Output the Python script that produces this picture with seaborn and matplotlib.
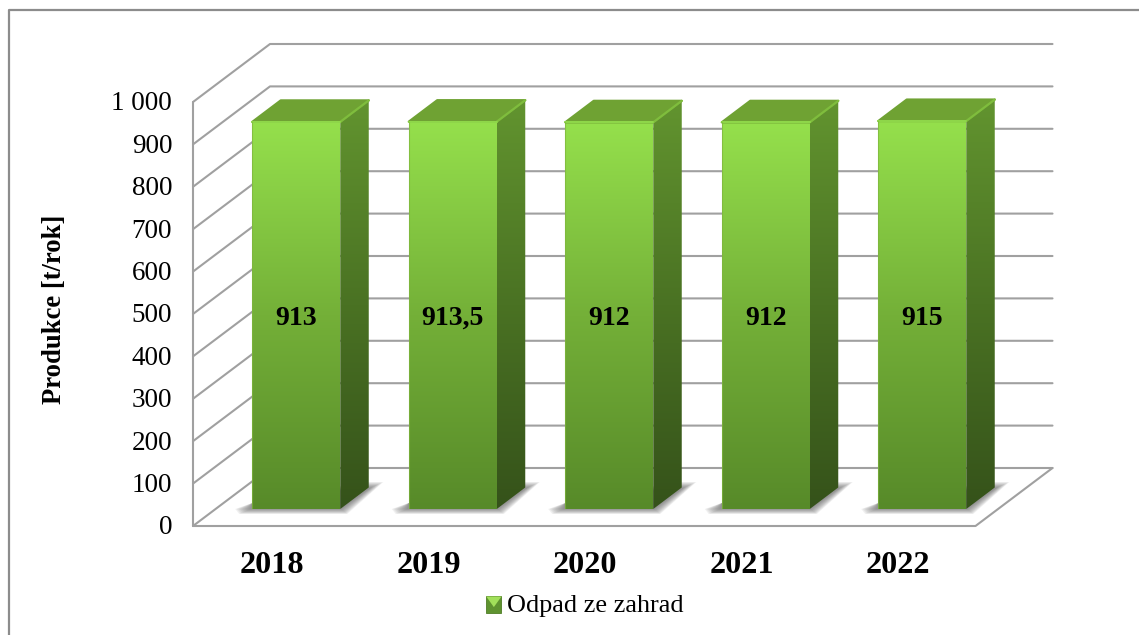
import numpy as np
import pandas as pd
import matplotlib
matplotlib.use("Agg")
import matplotlib.pyplot as plt
import matplotlib.transforms as mtrans
from matplotlib.colors import LinearSegmentedColormap
from matplotlib.lines import Line2D
from matplotlib.patches import Patch, Polygon, Rectangle
import seaborn as sns

years = ["2018", "2019", "2020", "2021", "2022"]
production = [913, 913.5, 912, 912, 915]
value_labels = ["913", "913,5", "912", "912", "915"]
y_ticks = [0, 100, 200, 300, 400, 500, 600, 700, 800, 900, 1000]
y_tick_labels = ["0", "100", "200", "300", "400", "500", "600", "700", "800", "900", "1 000"]
series_name = "Odpad ze zahrad"
y_title = "Produkce [t/rok]"

W, H = 1139, 635
PX_X = 156.5            # pixels per category
PX_Y = 0.424            # pixels per t/rok
FRONT = (-25, -17)      # front edge of the floor, relative to the bar plane
BACK = (52, 41)         # back wall, relative to the bar plane
DEPTH = (28.5, 21.5)    # bar depth
GRID = "#a0a0a0"

sns.set_theme(style="white")
plt.rcParams["font.family"] = ["Liberation Serif", "DejaVu Serif"]

df = pd.DataFrame({"year": years, "production": production})

fig = plt.figure(figsize=(W / 100, H / 100), dpi=100, facecolor="white")
ax = fig.add_axes([218 / W, 1 - 509 / H, 782.5 / W, 424 / H])
sns.barplot(data=df, x="year", y="production", width=88 / PX_X, color="#6fae35",
            saturation=1, ax=ax, zorder=2.4, linewidth=0)
ax.set_xlim(-0.5, 4.5)
ax.set_ylim(0, 1000)
for s in ax.spines.values():
    s.set_visible(False)


def off(x, v, dx=0, dy=0):
    return (x + dx / PX_X, v + dy / PX_Y)


def gradient(poly_pts, colors, zorder):
    xs = [p[0] for p in poly_pts]
    vs = [p[1] for p in poly_pts]
    cmap = LinearSegmentedColormap.from_list("g", colors)
    img = ax.imshow(np.linspace(1, 0, 256).reshape(-1, 1), cmap=cmap, aspect="auto",
                    extent=(min(xs), max(xs), min(vs), max(vs)), zorder=zorder,
                    interpolation="bilinear")
    clip = Polygon(poly_pts, closed=True, transform=ax.transData, fc="none", ec="none")
    ax.add_patch(clip)
    img.set_clip_path(clip)
    ax.set_xlim(-0.5, 4.5)
    ax.set_ylim(0, 1000)


# walls and floor
x0, x1 = -0.5, 4.5
line_kw = dict(color=GRID, lw=1.5, clip_on=False, zorder=1, solid_capstyle="round")
for v in y_ticks:
    fx, fy = off(x0, v, *FRONT)
    bx, by = off(x0, v, *BACK)
    ex, _ = off(x1, v, *BACK)
    ax.plot([fx, bx, ex], [fy, by, by], **line_kw)
ax.plot(*zip(off(x0, 0, *FRONT), off(x0, 1000, *FRONT)), **line_kw)
ax.plot(*zip(off(x0, 0, *FRONT), off(x1, 0, *FRONT), off(x1, 0, *BACK)), **line_kw)

# bars: shadow, front, side, top
bars = ax.containers[0]
for bar in bars:
    L, R = bar.get_x(), bar.get_x() + bar.get_width()
    top = bar.get_height()
    for g in range(10, -1, -1):
        s_top = 21 + 0.6 * g
        shadow = [off(L, 0, -2 - 1.5 * g, 0), off(L, 0, -1 - 1.2 * g, -0.5 * g),
                  off(R, 0, 1 + 0.6 * g, -0.5 * g), off(R, 0, 30 + 1.3 * g, s_top),
                  off(R, 0, 20, s_top), off(L, 0, 0, 6)]
        ax.add_patch(Polygon(shadow, closed=True, fc="#5a5a5a", ec="none", alpha=0.085,
                             clip_on=False, zorder=2))
    gradient([(L, 0), (R, 0), (R, top), (L, top)],
             ["#578a29", "#74b038", "#95e04c"], 2.5)
    gradient([(R, 0), off(R, 0, *DEPTH), off(R, top, *DEPTH), (R, top)],
             ["#35521a", "#4a7223", "#62942f"], 2.5)
    top_face = [(L, top), (R, top), off(R, top, *DEPTH), off(L, top, *DEPTH)]
    ax.add_patch(Polygon(top_face, closed=True, fc="#6fa233", ec="#6fa233", lw=1.6,
                         joinstyle="round", zorder=2.6))
    ax.plot(*zip((R, top), off(R, top, *DEPTH)), color="#7fbd3d", lw=1.6, zorder=2.65,
            solid_capstyle="round")
    ax.plot([L, R], [top, top], color="#8fd84a", lw=1.4, zorder=2.7, solid_capstyle="round")
    ax.plot([L, L], [0, top], color="#7fb53d", lw=0.8, alpha=0.7, zorder=2.7)

for t in ax.bar_label(bars, labels=value_labels, label_type="center", fontsize=20,
                      fontweight="bold", color="black", zorder=5):
    t.xyann = (0, -2.2)

# tick labels sit on the front plane
ax.set_yticks(y_ticks)
ax.set_yticklabels(y_tick_labels)
ax.tick_params(axis="y", length=0, pad=33, labelsize=19.5, labelcolor="black")
ax.tick_params(axis="x", length=0, pad=30, labelsize=23.2, labelcolor="black")
ax.set_xlabel("")
y_shift = mtrans.ScaledTranslation(0, -16 / 100, fig.dpi_scale_trans)
x_shift = mtrans.ScaledTranslation(-24 / 100, 0, fig.dpi_scale_trans)
for lab in ax.get_yticklabels():
    lab.set_transform(lab.get_transform() + y_shift)
for lab in ax.get_xticklabels():
    lab.set_transform(lab.get_transform() + x_shift)
    lab.set_fontweight("bold")

ax.set_ylabel(y_title, fontsize=19.2, fontweight="bold", color="black")
ax.yaxis.set_label_coords((67 - 218) / 782.5, (509 - 309) / 424)


class SwatchHandler:
    def legend_artist(self, legend, orig, fontsize, box):
        x, y = box.xdescent, box.ydescent
        w, h = box.width, box.height
        tr = box.get_transform()
        rect = Rectangle((x, y), w, h, fc="#5f9330", ec="#4f7d25", lw=0.6, transform=tr)
        tri = Polygon([(x, y + h), (x + w, y + h), (x + w / 2, y + h * 0.35)], closed=True,
                      fc="#a2e05a", ec="none", transform=tr)
        box.add_artist(rect)
        box.add_artist(tri)
        return rect


handle = Patch(label=series_name)
fig.legend(handles=[handle], loc="center", bbox_to_anchor=(585 / W, 1 - 605.5 / H), frameon=False,
           fontsize=18.9, handlelength=0.58, handleheight=0.58, handletextpad=0.22,
           handler_map={Patch: SwatchHandler()}, labelcolor="black")

# chart area border, cut by the page on the right and at the bottom
border = "#8c8c8c"
fig.add_artist(Line2D([8.5 / W, 8.5 / W, 1], [0, 1 - 10 / H, 1 - 10 / H], color=border, lw=1.6))

fig.savefig("out.png", dpi=100)
